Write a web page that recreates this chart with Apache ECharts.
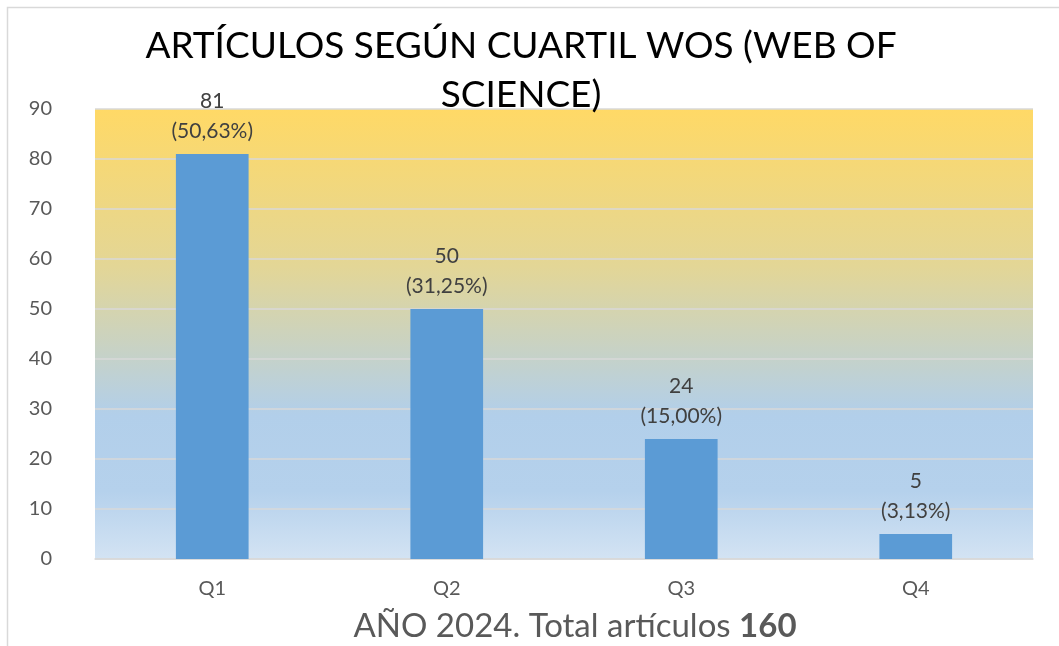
<!DOCTYPE html>
<html><head><meta charset="utf-8">
<script src="https://cdn.jsdelivr.net/npm/echarts@6/dist/echarts.min.js"></script>
<style>html,body{margin:0;padding:0;background:#fff}#c{width:1059px;height:646px}</style>
</head><body><div id="c"></div>
<script>
const categories = ['Q1', 'Q2', 'Q3', 'Q4'];
const values = [81, 50, 24, 5];
const percents = ['50,63%', '31,25%', '15,00%', '3,13%'];
const yTicks = [0, 10, 20, 30, 40, 50, 60, 70, 80, 90];
const titleText = 'ARTÍCULOS SEGÚN CUARTIL WOS (WEB OF\nSCIENCE)';
const xNameParts = ['AÑO 2024. Total artículos ', '160'];

const FONT = 'Lato, "Open Sans", sans-serif';
const chart = echarts.init(document.getElementById('c'), null, {renderer: 'canvas'});
const baseGraphic = [
  {type: 'rect', z: -10, shape: {x: 7.5, y: 7.5, width: 1200, height: 800},
   style: {fill: 'none', stroke: '#d9d9d9', lineWidth: 1.5}},
  {type: 'text', x: 521, y: 22, z: 10,
   style: {text: titleText, font: '37px ' + FONT, fill: '#000', textAlign: 'center', textVerticalAlign: 'top', lineHeight: 49}}
];
chart.setOption({
  animation: false,
  backgroundColor: '#ffffff',
  graphic: baseGraphic,
  grid: {left: 95, right: 26, top: 109, bottom: 87, outerBoundsMode: 'none', containLabel: false},
  xAxis: {
    type: 'category', data: categories,
    axisLine: {lineStyle: {color: '#d9d9d9', width: 1.5}},
    axisTick: {show: false},
    axisLabel: {color: '#595959', fontSize: 20, fontFamily: FONT, margin: 20},
    name: '{a|' + xNameParts[0] + '}{b|' + xNameParts[1] + '}',
    nameLocation: 'middle', nameGap: 51,
    nameTextStyle: {
      rich: {
        a: {fontSize: 33, color: '#595959', fontFamily: FONT},
        b: {fontSize: 33, color: '#595959', fontFamily: FONT, fontWeight: 'bold'}
      },
      padding: [0, 0, 0, 22]
    }
  },
  yAxis: {
    type: 'value', min: yTicks[0], max: yTicks[yTicks.length - 1], interval: yTicks[1] - yTicks[0],
    axisLine: {show: false}, axisTick: {show: false},
    axisLabel: {color: '#595959', fontSize: 20, fontFamily: FONT, margin: 43},
    splitLine: {lineStyle: {color: '#d9d9d9', width: 1.5}},
    splitArea: {show: false}
  },
  series: [
    {
      type: 'bar', data: values, barWidth: '31%', z: 2,
      itemStyle: {color: '#5b9bd5'},
      label: {
        show: true, position: 'top', distance: 8,
        color: '#404040', fontSize: 21, fontFamily: FONT, lineHeight: 30,
        formatter: p => p.value + '\n(' + percents[p.dataIndex] + ')'
      }
    }
  ]
});
// plot-area gradient background drawn behind the grid
const rect = chart.getModel().getComponent('grid').coordinateSystem.getRect();
chart.setOption({
  graphic: baseGraphic.concat([
    {type: 'rect', z: -5, silent: true,
     shape: {x: rect.x, y: rect.y, width: rect.width, height: rect.height},
     style: {fill: new echarts.graphic.LinearGradient(0, 0, 0, 1, [
       {offset: 0, color: '#ffd966'},
       {offset: 0.35, color: '#e3d696'},
       {offset: 0.68, color: '#b2cfea'},
       {offset: 0.85, color: '#b5d1ec'},
       {offset: 1, color: '#d3e3f3'}
     ])}}
  ])
});
</script></body></html>
